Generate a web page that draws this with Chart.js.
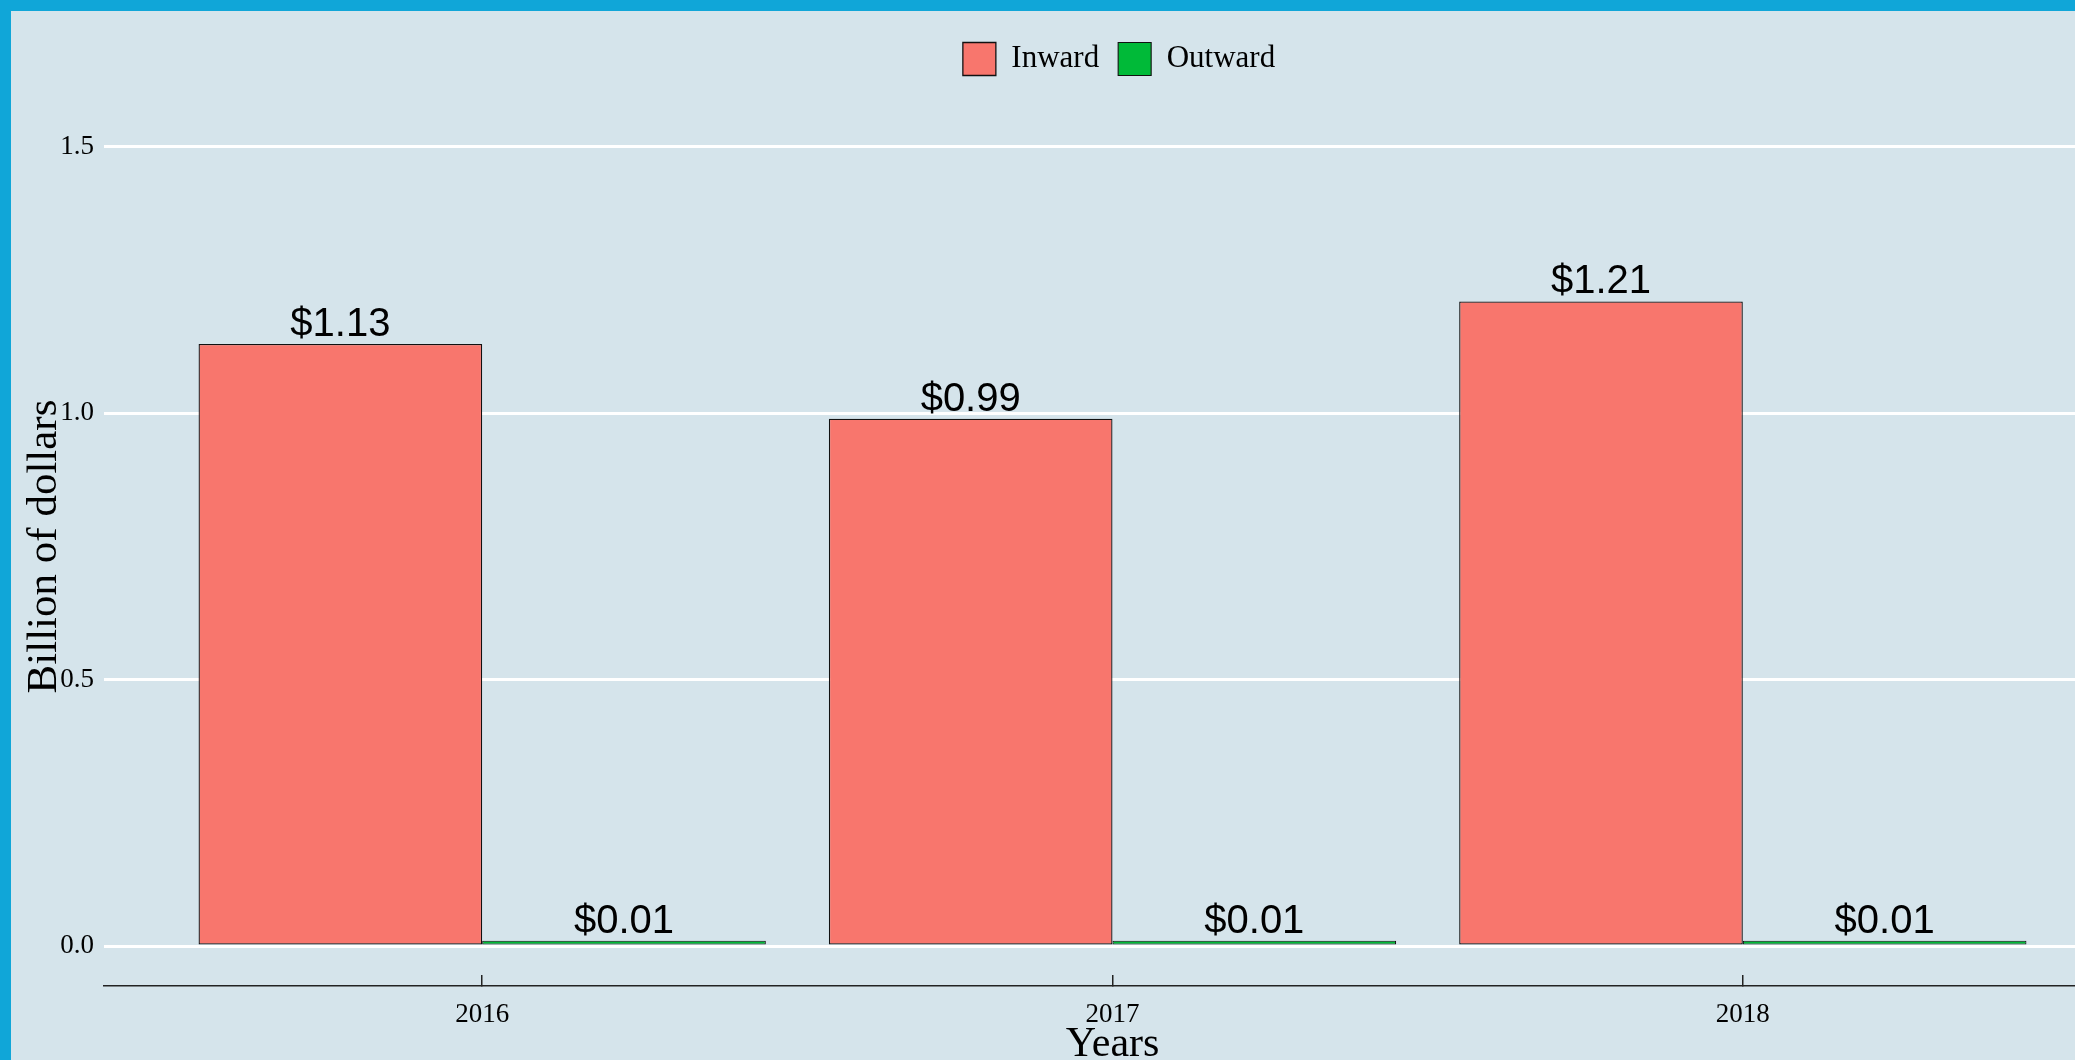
<!DOCTYPE html>
<html>
<head>
<meta charset="utf-8">
<script src="https://cdn.jsdelivr.net/npm/chart.js@4.4.1/dist/chart.umd.min.js"></script>
<style>
  html, body { margin: 0; padding: 0; width: 2075px; height: 1060px; overflow: hidden; background: #10a6d8; }
  #frame { position: absolute; left: 11px; top: 11px; width: 2064px; height: 1049px; overflow: hidden; background: #d5e4eb; }
  #c { position: absolute; left: 0; top: 0; }
</style>
</head>
<body>
<div id="frame"><canvas id="c" width="2216" height="1080" style="width:2216px;height:1080px"></canvas></div>
<script>
// ---- data ----
const years = [2016, 2017, 2018];
const inward = [1.13, 0.99, 1.21];
const outward = [0.01, 0.01, 0.01];
const seriesNames = ['Inward', 'Outward'];
const yTickValues = [0.0, 0.5, 1.0, 1.5];
const xTitle = 'Years';
const yTitle = 'Billion of dollars';

const SERIF = "'Liberation Serif', 'Times New Roman', serif";
const SANS = "'Liberation Sans', Arial, sans-serif";

const valueLabels = {
  id: 'valueLabels',
  afterDatasetsDraw(chart) {
    const ctx = chart.ctx;
    ctx.save();
    ctx.font = '40px ' + SANS;
    ctx.fillStyle = '#000';
    ctx.textAlign = 'center';
    ctx.textBaseline = 'alphabetic';
    chart.data.datasets.forEach((ds, di) => {
      chart.getDatasetMeta(di).data.forEach((bar, i) => {
        ctx.fillText('$' + ds.data[i].y.toFixed(2), bar.x, bar.y - 8);
      });
    });
    ctx.restore();
  }
};

const toPoints = arr => years.map((yr, i) => ({ x: yr, y: arr[i] }));

new Chart(document.getElementById('c'), {
  type: 'bar',
  data: {
    datasets: [
      { label: seriesNames[0], data: toPoints(inward), backgroundColor: '#F8766D', borderColor: '#111', borderWidth: 1.3, borderSkipped: false, categoryPercentage: 0.9, barPercentage: 1.0 },
      { label: seriesNames[1], data: toPoints(outward), backgroundColor: '#00BA38', borderColor: '#111', borderWidth: 1.1, borderSkipped: false, categoryPercentage: 0.9, barPercentage: 1.0 }
    ]
  },
  options: {
    responsive: false,
    animation: false,
    devicePixelRatio: 1,
    layout: { padding: { top: 12.5, left: 0, right: 0, bottom: 0 } },
    plugins: {
      legend: {
        position: 'top',
        weight: 1000,
        labels: { boxWidth: 33, boxHeight: 33, padding: 19, color: '#000', font: { family: SERIF, size: 31 } }
      },
      title: { display: true, text: '', weight: 500, font: { size: 10, lineHeight: 1 }, padding: { top: 0, bottom: 11.5 } },
      tooltip: { enabled: false }
    },
    scales: {
      x: {
        type: 'linear',
        position: 'bottom',
        min: 2015.4,
        max: 2018.6,
        offset: false,
        afterBuildTicks: s => { s.ticks = years.map(v => ({ value: v })); },
        afterFit: s => { s.height = 105; },
        ticks: { callback: v => String(v), color: '#000', font: { family: SERIF, size: 27, lineHeight: 1 }, padding: 26.5, maxRotation: 0, autoSkip: false },
        grid: { display: true, offset: false, drawOnChartArea: false, drawTicks: true, tickLength: -11, tickColor: '#222', tickWidth: 1.5, color: '#222', lineWidth: 1.5 },
        border: { display: true, color: '#222', width: 1.5 },
        title: { display: true, text: xTitle, color: '#000', font: { family: SERIF, size: 42, lineHeight: 1 }, padding: { top: 0, bottom: 25 } }
      },
      y: {
        type: 'linear',
        position: 'left',
        min: -0.075,
        max: 1.575,
        afterBuildTicks: s => { s.ticks = yTickValues.map(v => ({ value: v })); },
        afterFit: s => { s.width = 93; },
        ticks: { callback: v => Number(v).toFixed(1), color: '#000', font: { family: SERIF, size: 27 }, padding: 10 },
        grid: { color: '#ffffff', lineWidth: 3, drawTicks: false },
        border: { display: false },
        title: { display: true, text: yTitle, color: '#000', font: { family: SERIF, size: 43, lineHeight: 1 }, padding: { top: 12, bottom: 0 } }
      },
      pad: {
        type: 'linear',
        position: 'right',
        display: true,
        afterFit: s => { s.width = 106; },
        ticks: { display: false },
        grid: { display: false, drawTicks: false },
        border: { display: false }
      }
    }
  },
  plugins: [valueLabels]
});
</script>
</body>
</html>
